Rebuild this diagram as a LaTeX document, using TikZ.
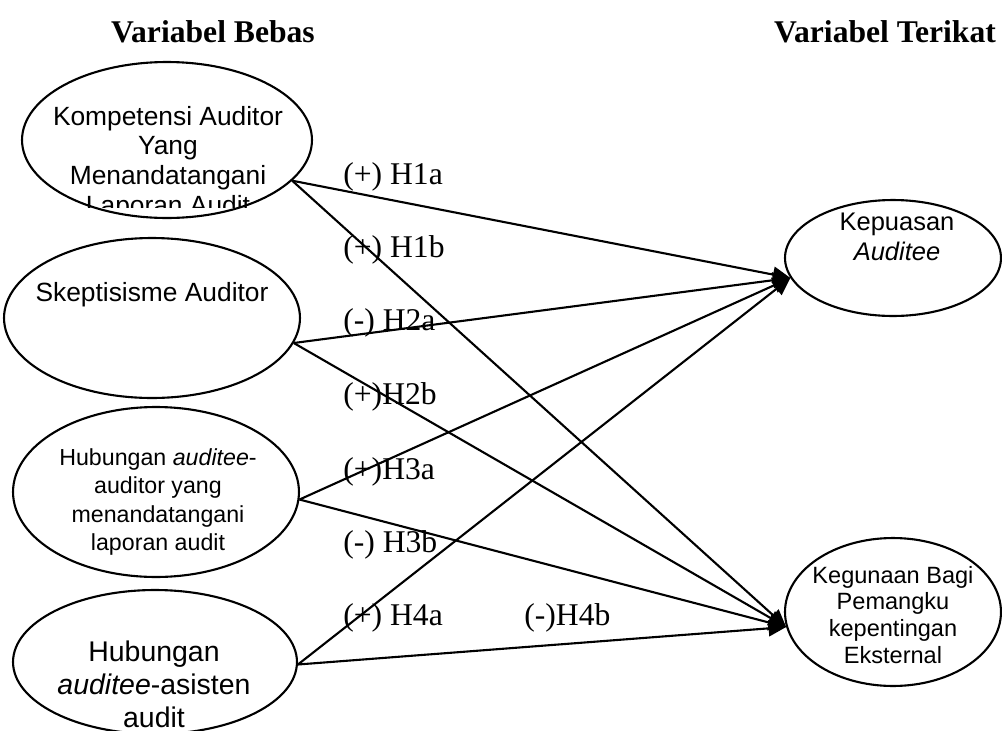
\documentclass[tikz,border=0pt]{standalone}
\usepackage{fontspec}
\setmainfont{Liberation Serif}
\setsansfont{Liberation Sans}
\usetikzlibrary{shapes.geometric,arrows.meta}

\begin{document}
\begin{tikzpicture}[x=0.02cm,y=-0.02cm,
  var/.style={draw,ellipse,line width=1.2pt,inner sep=0pt},
  vtext/.style={align=center,inner sep=0pt},
  hyp/.style={anchor=west,inner sep=0pt,font=\fontsize{18}{20}\selectfont},
  link/.style={-{Triangle[length=10pt,width=9pt]},line width=1.2pt}]
\useasboundingbox (0,0) rectangle (1002,731);

\node[font=\bfseries\fontsize{18}{20}\selectfont] (bebas) at (213,32) {Variabel Bebas};
\node[font=\bfseries\fontsize{18}{20}\selectfont] (terikat) at (885,32) {Variabel Terikat};

% variabel bebas
\node[var,minimum width=5.8cm,minimum height=3.12cm] (e1) at (167,140) {};
\begin{scope}
\clip (0,0) rectangle (1002,207);
\node[vtext,font=\sffamily\fontsize{15}{17}\selectfont] (t1) at (168,163) {Kompetensi Auditor\\Yang\\Menandatangani\\Laporan Audit};
\end{scope}
\node[var,minimum width=5.92cm,minimum height=3.2cm] (e2) at (152,318) {};
\node[vtext,font=\sffamily\fontsize{15}{17}\selectfont] (t2) at (152,295) {Skeptisisme Auditor};
\node[var,minimum width=5.72cm,minimum height=3.4cm] (e3) at (156,492) {};
\node[vtext,font=\sffamily\fontsize{13.2}{16.2}\selectfont] (t3) at (158,502) {Hubungan \textit{auditee}-\\auditor yang\\menandatangani\\laporan audit};
\node[var,minimum width=5.68cm,minimum height=2.88cm] (e4) at (155,662) {};
\node[vtext,font=\sffamily\fontsize{16.2}{18.7}\selectfont] (t4) at (154,684) {Hubungan\\\textit{auditee}-asisten\\audit};

% variabel terikat
\node[var,minimum width=4.32cm,minimum height=2.32cm] (kep) at (893,258) {};
\node[vtext,font=\sffamily\fontsize{14.5}{17}\selectfont] (tk) at (897,237) {Kepuasan\\\textit{Auditee}};
\node[var,minimum width=4.32cm,minimum height=2.96cm] (keg) at (893,612) {};
\node[vtext,font=\sffamily\fontsize{13.4}{15.3}\selectfont] (tg) at (893,615) {Kegunaan Bagi\\Pemangku\\kepentingan\\Eksternal};

% hipotesis
\draw[link] (e1.-18) -- (kep.191);
\draw[link] (e1.-18) -- (keg.188);
\draw[link] (e2.-10) -- (kep.191);
\draw[link] (e2.-10) -- (keg.188);
\draw[link] (e3.-3) -- (kep.191);
\draw[link] (e3.-3) -- (keg.188);
\draw[link] (e4.-1) -- (kep.191);
\draw[link] (e4.-1) -- (keg.188);

\node[hyp] (h1a) at (343,177) {(+) H1a};
\node[hyp] (h1b) at (343,250) {(+) H1b};
\node[hyp] (h2a) at (343,323) {(-) H2a};
\node[hyp] (h2b) at (343,397) {(+)H2b};
\node[hyp] (h3a) at (343,472) {(+)H3a};
\node[hyp] (h3b) at (343,545) {(-) H3b};
\node[hyp] (h4a) at (343,618) {(+) H4a};
\node[hyp] (h4b) at (524,618) {(-)H4b};
\end{tikzpicture}
\end{document}
